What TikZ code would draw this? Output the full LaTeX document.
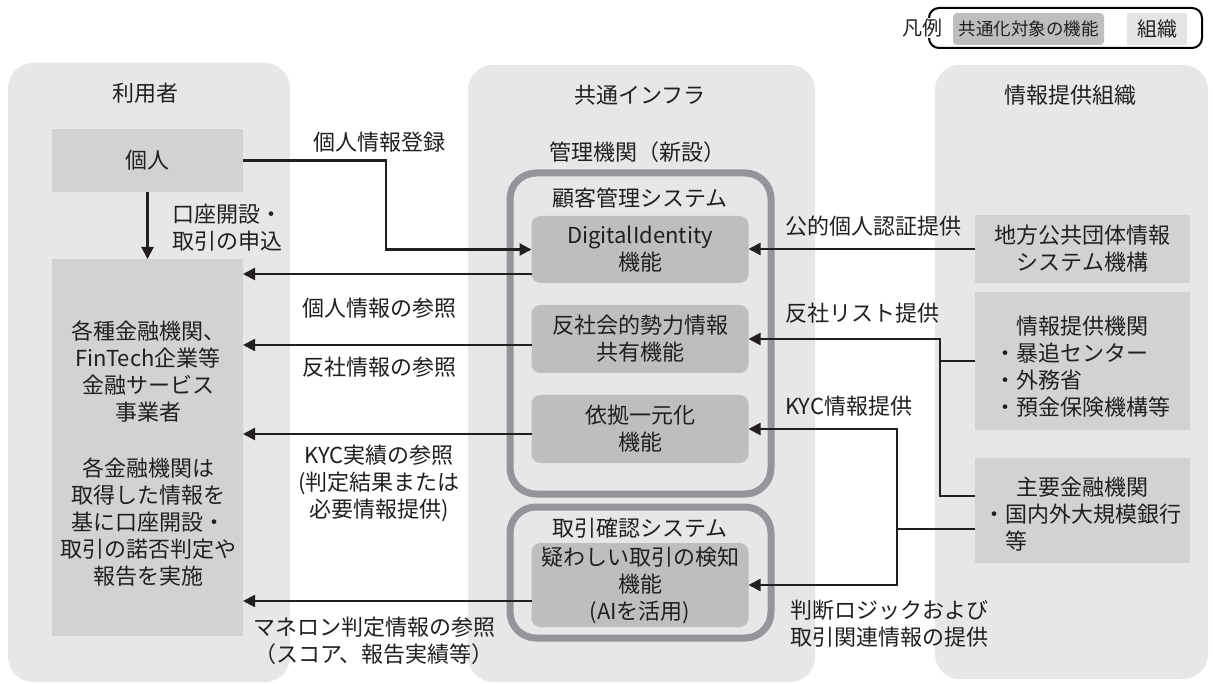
\documentclass[tikz,border=0pt]{standalone}
\usepackage{fontspec}
\setmainfont{Noto Sans CJK JP}
\usetikzlibrary{arrows.meta}
\definecolor{panelc}{HTML}{E6E7E8}
\definecolor{orgc}{HTML}{D1D2D4}
\definecolor{funcc}{HTML}{BCBEC0}
\definecolor{framec}{HTML}{939598}
\definecolor{txtc}{HTML}{231F20}
\definecolor{legorg}{HTML}{E3E4E5}
\tikzset{
  base/.style={inner sep=0pt, outer sep=0pt, text=txtc, font=\fontsize{22pt}{27pt}\selectfont},
  panel/.style={base, fill=panelc, rounded corners=25pt},
  orgbox/.style={base, fill=orgc, align=center},
  func/.style={base, fill=funcc, rounded corners=9pt, align=center},
  sysframe/.style={base, draw=framec, line width=7pt, rounded corners=26pt},
  lbl/.style={base, align=center},
  conn/.style={draw=txtc, line width=2.2pt},
  arr/.style={conn, -{Triangle[length=12pt,width=12pt]}},
}
\begin{document}
\begin{tikzpicture}[x=1pt,y=-1pt]
\useasboundingbox (0,0) rectangle (1213,684);
\fill[white] (0,0) rectangle (1213,684);

% panels
\node[panel, minimum width=282pt, minimum height=619pt] (pU) at (149,372.5) {};
\node[panel, minimum width=347pt, minimum height=617pt] (pI) at (641.5,373.5) {};
\node[panel, minimum width=273pt, minimum height=614pt] (pO) at (1071.5,372) {};

\node[lbl] (tU) at (145,93) {利用者};
\node[lbl] (tI) at (640,95) {共通インフラ};
\node[lbl] (tO) at (1070,95) {情報提供組織};

% legend
\node[base, draw=black, line width=2pt, rounded corners=10pt, minimum width=273pt, minimum height=40pt] (leg) at (1065.5,28) {};
\node[base, fill=white, inner sep=1pt, font=\fontsize{20pt}{24pt}\selectfont] (legt) at (922,28) {凡例};
\node[base, fill=funcc, rounded corners=4pt, minimum width=151pt, minimum height=32pt, font=\fontsize{17.5pt}{21pt}\selectfont] (legf) at (1028.5,29) {共通化対象の機能};
\node[base, fill=legorg, minimum width=60pt, minimum height=32pt, font=\fontsize{20pt}{24pt}\selectfont] (lego) at (1157,29) {組織};

% left column
\node[orgbox, minimum width=191pt, minimum height=63pt] (kojin) at (147.5,160.5) {個人};
\node[orgbox, minimum width=191pt, minimum height=377pt] (fin) at (147.5,447.5) {};
\node[lbl] (fin1) at (148,372) {各種金融機関、\\FinTech企業等\\金融サービス\\事業者};
\node[lbl] (fin2) at (148,522) {各金融機関は\\取得した情報を\\基に口座開設・\\取引の諾否判定や\\報告を実施};

% middle column
\node[lbl] (kanri) at (637,152) {管理機関（新設）};
\node[sysframe, minimum width=261pt, minimum height=321pt] (fr1) at (640.5,333.5) {};
\node[sysframe, minimum width=261pt, minimum height=131pt] (fr2) at (640.5,572.5) {};
\node[lbl] (fr1t) at (640,198) {顧客管理システム};
\node[lbl] (fr2t) at (640,528) {取引確認システム};

\node[func, minimum width=217pt, minimum height=67pt] (di) at (640,249.5) {DigitalIdentity\\機能};
\node[func, minimum width=217pt, minimum height=68pt] (hs) at (640,339) {反社会的勢力情報\\共有機能};
\node[func, minimum width=217pt, minimum height=68pt] (ik) at (640,429) {依拠一元化\\機能};
\node[func, minimum width=217pt, minimum height=84pt] (ut) at (640,585) {疑わしい取引の検知\\機能\\(AIを活用)};

% right column
\node[orgbox, minimum width=215pt, minimum height=68pt] (jl) at (1082.5,249) {地方公共団体情報\\システム機構};
\node[orgbox, minimum width=215pt, minimum height=138pt] (ip) at (1082.5,361) {};
\node[base, align=left] (ipt) at (1082.5,367) {\hspace*{1em}情報提供機関\\・暴追センター\\・外務省\\・預金保険機構等};
\node[orgbox, minimum width=215pt, minimum height=105pt] (sy) at (1082.5,510.5) {};
\node[base, align=left] (syt) at (1082.5,514.5) {\hspace*{1.5em}主要金融機関\\・国内外大規模銀行\\\hspace*{1em}等};

% helper coordinates
\coordinate (kx) at (386,0);
\coordinate (jx) at (940,0);
\coordinate (yx) at (897,0);
\path ([yshift=-24.5pt]di.west) coordinate (diL);
\path ([yshift=-6pt]hs.west) coordinate (hsL);
\path ([yshift=-5pt]ik.west) coordinate (ikL);
\path ([yshift=-16pt]ut.west) coordinate (utL);
\path ([yshift=14.5pt]sy.west) coordinate (syA);
\path ([yshift=-18.5pt]sy.west) coordinate (syB);

% connectors
\draw[arr] (kojin.south) -- (fin.north);
\draw[arr] (kojin.east) -| (kx |- di.west) -- (di.west);
\draw[arr] (diL) -- (fin.east |- diL);
\draw[arr] (hsL) -- (fin.east |- hsL);
\draw[arr] (ikL) -- (fin.east |- ikL);
\draw[arr] (utL) -- (fin.east |- utL);

\draw[arr] (jl.west) -- (di.east |- jl.west);
\draw[arr] (ip.west) -| (jx |- hs.east) -- (hs.east);
\draw[conn] (syA) -| (jx |- ip.west);
\draw[arr] (syB) -| (yx |- ik.east) -- (ik.east);
\draw[arr] (syB) -| (yx |- ut.east) -- (ut.east);

% labels
\node[lbl] (l1) at (379,142) {個人情報登録};
\node[lbl, anchor=west, align=left] (l2) at (172,227.5) {口座開設・\\取引の申込};
\node[lbl] (l3) at (379,308) {個人情報の参照};
\node[lbl] (l4) at (379,367) {反社情報の参照};
\node[lbl] (l5) at (379,483) {KYC実績の参照\\(判定結果または\\必要情報提供)};
\node[lbl] (l6) at (374,640.5) {マネロン判定情報の参照\\（スコア、報告実績等）};
\node[lbl, anchor=west] (r1) at (785,226) {公的個人認証提供};
\node[lbl, anchor=west] (r2) at (785,313) {反社リスト提供};
\node[lbl, anchor=west] (r3) at (785,406) {KYC情報提供};
\node[lbl, anchor=west, align=left] (r4) at (790,623.5) {判断ロジックおよび\\取引関連情報の提供};
\end{tikzpicture}
\end{document}
